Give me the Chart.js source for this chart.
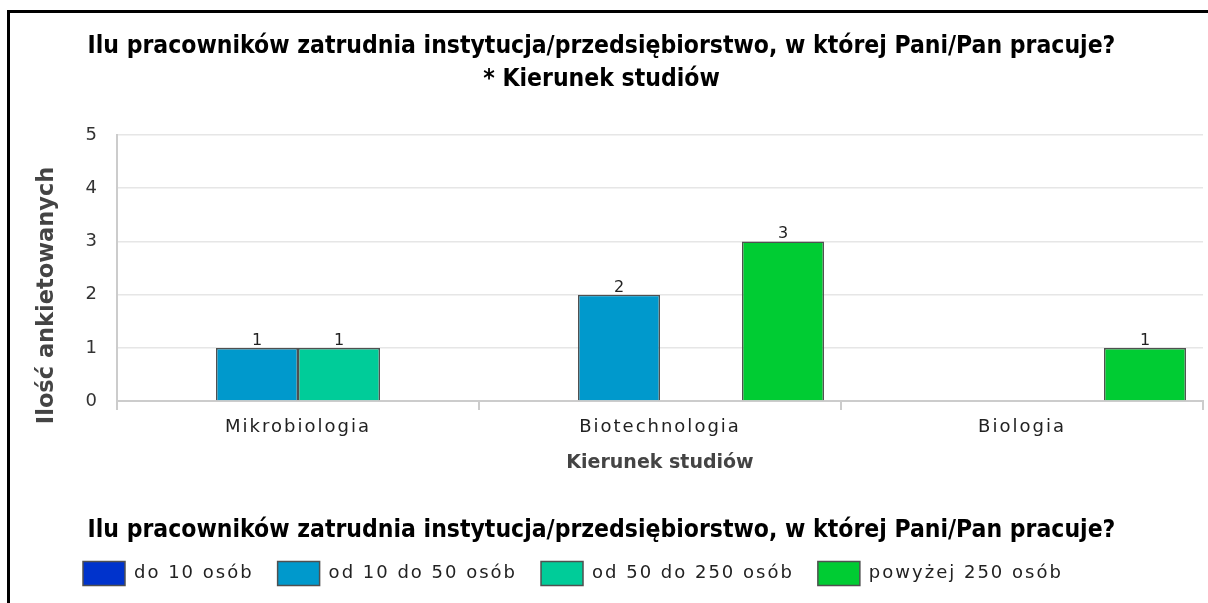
<!DOCTYPE html>
<html><head><meta charset="utf-8">
<script src="https://cdn.jsdelivr.net/npm/chart.js@4/dist/chart.umd.min.js"></script>
<style>
html,body{margin:0;padding:0;background:#fff;}
#wrap{position:relative;width:1208px;height:603px;overflow:hidden;background:#fff;}
#frame{position:absolute;left:7px;top:10px;right:-10px;bottom:-10px;border-left:3px solid #000;border-top:3px solid #000;pointer-events:none;}
canvas{position:absolute;left:0;top:0;}
</style></head><body>
<div id="wrap"><canvas id="c" width="1208" height="603"></canvas><div id="frame"></div></div>
<script>
const chartTitle = ['Ilu pracowników zatrudnia instytucja/przedsiębiorstwo, w której Pani/Pan pracuje?', '* Kierunek studiów'];
const legendTitle = 'Ilu pracowników zatrudnia instytucja/przedsiębiorstwo, w której Pani/Pan pracuje?';
const yAxisTitle = 'Ilość ankietowanych';
const xAxisTitle = 'Kierunek studiów';
const categories = ['Mikrobiologia', 'Biotechnologia', 'Biologia'];
const seriesNames = ['do 10 osób', 'od 10 do 50 osób', 'od 50 do 250 osób', 'powyżej 250 osób'];
const do10 = [null, null, null];
const od10do50 = [1, 2, null];
const od50do250 = [1, null, null];
const powyzej250 = [null, 3, 1];
const yTicks = [0, 1, 2, 3, 4, 5];
const seriesColors = ['#0033CC', '#0099CC', '#00CC99', '#00CC33'];

const NARROW = "'Liberation Sans Narrow', 'DejaVu Sans Condensed', 'Arial Narrow', sans-serif";
const SANS = "'DejaVu Sans', Verdana, sans-serif";
const SPACING = '2px';

const seriesData = [do10, od10do50, od50do250, powyzej250];
const datasets = seriesNames.map((n, i) => ({
  label: n,
  data: seriesData[i],
  backgroundColor: seriesColors[i],
  borderColor: '#505050',
  borderWidth: 1.5,
  categoryPercentage: 0.906,
  barPercentage: 1.0
}));

const valueLabels = {
  id: 'valueLabels',
  afterDatasetsDraw(chart) {
    const ctx = chart.ctx;
    ctx.save();
    ctx.font = "16px " + SANS;
    ctx.fillStyle = '#222';
    ctx.textAlign = 'center';
    ctx.textBaseline = 'alphabetic';
    chart.data.datasets.forEach((ds, di) => {
      const meta = chart.getDatasetMeta(di);
      meta.data.forEach((el, i) => {
        const v = ds.data[i];
        if (v === null || v === undefined) return;
        ctx.fillText(String(v), el.x, el.y - 3);
      });
    });
    ctx.restore();
  }
};

function withSpacing(obj, name) {
  const key = '_sp_' + name;
  if (obj[key]) return;
  const orig = obj[name];
  obj[name] = function (...args) {
    const ctx = this.ctx;
    const prev = ctx.letterSpacing;
    ctx.letterSpacing = SPACING;
    try { return orig.apply(this, args); } finally { ctx.letterSpacing = prev || '0px'; }
  };
  obj[key] = true;
}

const spacedText = {
  id: 'spacedText',
  beforeLayout(chart) {
    if (chart.legend) { withSpacing(chart.legend, 'fit'); withSpacing(chart.legend, 'draw'); }
    Object.values(chart.scales).forEach(s => withSpacing(s, 'drawLabels'));
  },
  afterLayout(chart) {
    if (chart.legend) { chart.legend.left += 59; }
  }
};

new Chart(document.getElementById('c'), {
  type: 'bar',
  data: { labels: categories, datasets },
  plugins: [valueLabels, spacedText],
  options: {
    responsive: false,
    animation: false,
    layout: { padding: { left: 0, right: 5, top: 0, bottom: 7.5 } },
    plugins: {
      tooltip: { enabled: false },
      title: {
        display: true,
        text: chartTitle,
        color: '#000',
        font: { family: NARROW, size: 24.5, weight: 'bold', lineHeight: 33 / 24.5 },
        padding: { top: 30, bottom: 39 }
      },
      subtitle: {
        display: true,
        position: 'bottom',
        weight: 500,
        text: legendTitle,
        color: '#000',
        font: { family: NARROW, size: 24.5, weight: 'bold', lineHeight: 1.2 },
        padding: { top: 36, bottom: -8 }
      },
      legend: {
        position: 'bottom',
        align: 'start',
        labels: {
          boxWidth: 42,
          boxHeight: 24,
          padding: 24,
          color: '#222',
          font: { family: SANS, size: 18 }
        }
      }
    },
    scales: {
      x: {
        grid: {
          offset: true,
          drawOnChartArea: true,
          drawTicks: true,
          tickLength: 9,
          color: (c) => (c.index === categories.length ? '#d8d8d8' : 'rgba(0,0,0,0)'),
          tickColor: '#cccccc',
          lineWidth: 2
        },
        border: { display: true, color: '#cccccc', width: 2 },
        ticks: { color: '#222', font: { family: SANS, size: 18 }, padding: 6 },
        title: {
          display: true,
          text: xAxisTitle,
          color: '#444',
          font: { family: SANS, size: 19, weight: 'bold' },
          padding: { top: 0, bottom: 6 }
        },
        afterFit(scale) { scale.height = 79; }
      },
      y: {
        min: yTicks[0],
        max: yTicks[yTicks.length - 1],
        afterBuildTicks(scale) { scale.ticks = yTicks.map(v => ({ value: v })); },
        grid: { color: '#e6e6e6', lineWidth: 1.5, drawTicks: false },
        border: { display: true, color: '#cccccc', width: 2 },
        ticks: { color: '#333', font: { family: SANS, size: 18 }, padding: 18 },
        title: {
          display: true,
          text: yAxisTitle + '       ',
          color: '#444',
          font: { family: SANS, size: 22.5, weight: 'bold' },
          padding: { top: 34, bottom: 0 }
        },
        afterFit(scale) { scale.width = 117; }
      }
    }
  }
});
</script>
</body></html>
